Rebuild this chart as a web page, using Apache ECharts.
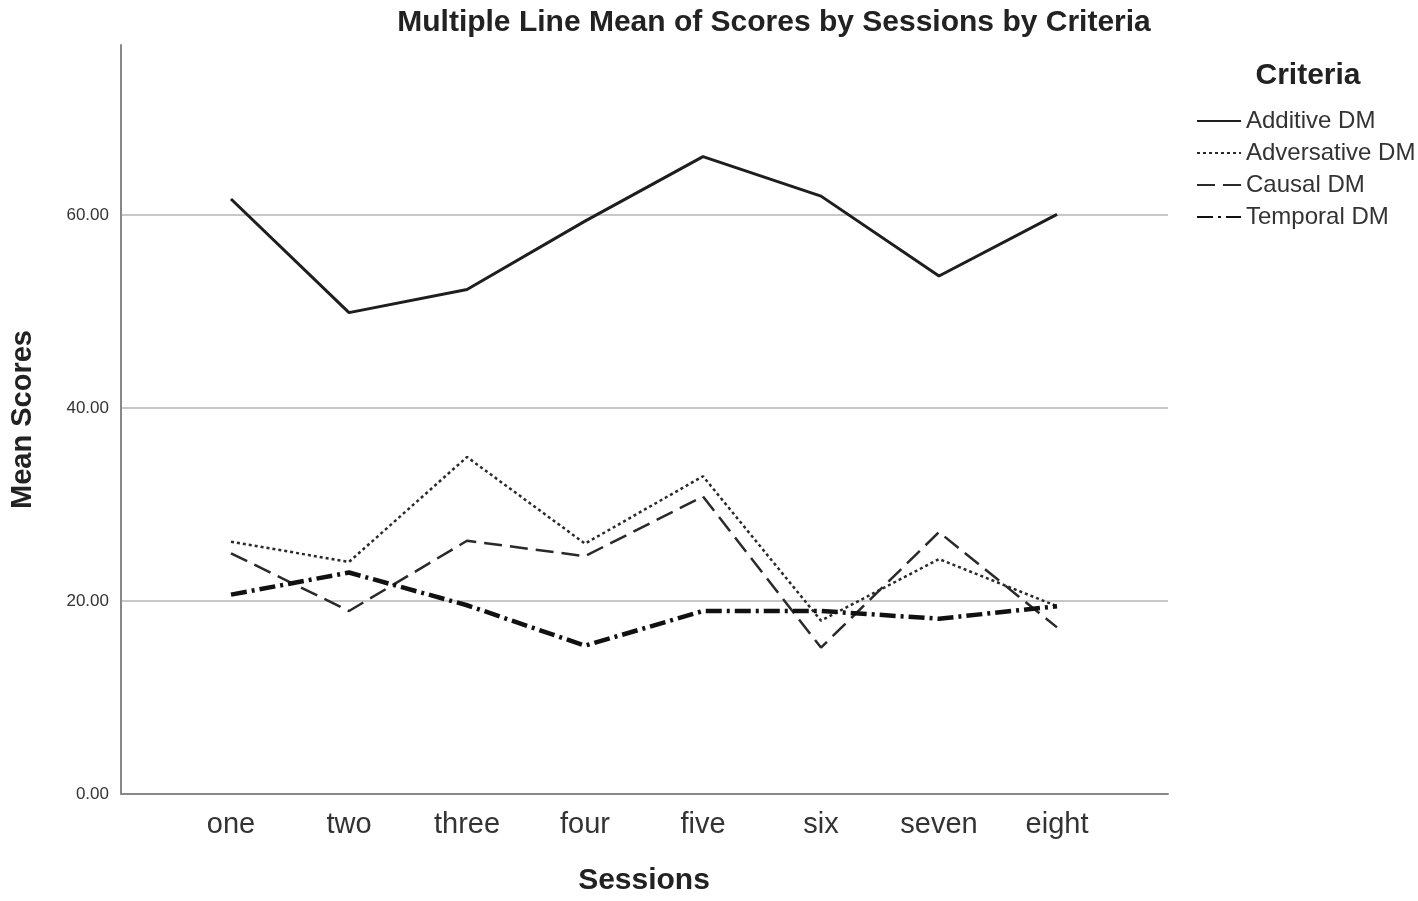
<!DOCTYPE html>
<html lang="en">
<head>
    <meta charset="UTF-8">
    <title>Multiple Line Mean of Scores</title>
    <script src="https://cdn.jsdelivr.net/npm/echarts@6/dist/echarts.min.js"></script>
    <style>
        html, body { margin: 0; padding: 0; background: #fff; }
    </style>
</head>
<body>
<div id="main" style="width: 1418px;height:901px;"></div>
<script>
    // sessions on x axis
    var sessions = ['one', 'two', 'three', 'four', 'five', 'six', 'seven', 'eight'];
    var criteria = ['Additive DM', 'Adversative DM', 'Causal DM', 'Temporal DM'];
    // mean scores
    var additive = [61.6, 49.8, 52.2, 59.3, 66.0, 61.9, 53.6, 60.0];
    var adversative = [26.0, 23.9, 34.8, 25.8, 32.8, 17.8, 24.2, 19.3];
    var causal = [24.8, 18.8, 26.1, 24.5, 30.7, 15.0, 27.0, 17.1];
    var temporal = [20.5, 22.8, 19.4, 15.2, 18.8, 18.8, 18.0, 19.3];
    var yTicks = [0, 20, 40, 60];

    var font = 'Liberation Sans, Arial, sans-serif';
    var yMax = 77.6;
    var grid = '#c8c8c8';

    var myChart = echarts.init(document.getElementById('main'));

    var option = {
        backgroundColor: '#fff',
        animation: false,
        textStyle: {fontFamily: font},
        title: [{
            text: 'Multiple Line Mean of Scores by Sessions by Criteria',
            left: 769, top: 3, textAlign: 'center',
            textStyle: {fontSize: 30, fontWeight: 'bold', color: '#222', fontFamily: font}
        }, {
            text: 'Criteria',
            left: 1303, top: 56, textAlign: 'center',
            textStyle: {fontSize: 30, fontWeight: 'bold', color: '#222', fontFamily: font}
        }],
        legend: {
            orient: 'vertical',
            left: 1191, top: 104,
            itemWidth: 44, itemHeight: 14, itemGap: 8,
            data: criteria,
            itemStyle: {opacity: 0},
            textStyle: {fontSize: 24, color: '#333', fontFamily: font, padding: [0, 0, 0, 0]}
        },
        grid: [
            {left: 119, right: 250, top: 45, bottom: 107},   // frame
            {left: 172, right: 302, top: 45, bottom: 107}    // data
        ],
        xAxis: [{
            gridIndex: 0, type: 'value', min: 0, max: 1,
            axisLine: {show: true, lineStyle: {color: '#888', width: 2}},
            axisTick: {show: false}, axisLabel: {show: false}, splitLine: {show: false}
        }, {
            gridIndex: 1, type: 'category', data: sessions, boundaryGap: true,
            name: 'Sessions', nameLocation: 'middle', nameGap: 74,
            nameTextStyle: {fontSize: 30, fontWeight: 'bold', color: '#222', fontFamily: font},
            axisLine: {show: false}, axisTick: {show: false},
            axisLabel: {fontSize: 29, color: '#333', margin: 18, fontFamily: font}
        }],
        yAxis: [{
            gridIndex: 0, type: 'value', min: 0, max: yMax, interval: 20,
            name: 'Mean Scores', nameLocation: 'middle', nameGap: 84,
            nameTextStyle: {fontSize: 29, fontWeight: 'bold', color: '#222', fontFamily: font},
            axisLine: {show: true, lineStyle: {color: '#888', width: 2}},
            axisTick: {show: false},
            axisLabel: {
                fontSize: 17, color: '#333', margin: 12, showMaxLabel: false, fontFamily: font,
                formatter: function (v) { return yTicks.indexOf(v) >= 0 ? v.toFixed(2) : ''; }
            },
            splitLine: {show: true, lineStyle: {color: [grid, grid, grid, grid, 'rgba(0,0,0,0)'], width: 2}}
        }, {
            gridIndex: 1, type: 'value', min: 0, max: yMax, show: false
        }],
        series: [{
            name: criteria[0], type: 'line', xAxisIndex: 1, yAxisIndex: 1,
            data: additive, symbol: 'none', color: '#1e1e1e',
            lineStyle: {color: '#1e1e1e', width: 3, type: 'solid'}
        }, {
            name: criteria[1], type: 'line', xAxisIndex: 1, yAxisIndex: 1,
            data: adversative, symbol: 'none', color: '#2a2a2a',
            lineStyle: {color: '#2a2a2a', width: 2.5, type: [3, 3]}
        }, {
            name: criteria[2], type: 'line', xAxisIndex: 1, yAxisIndex: 1,
            data: causal, symbol: 'none', color: '#2a2a2a',
            lineStyle: {color: '#2a2a2a', width: 2.5, type: [18, 8]}
        }, {
            name: criteria[3], type: 'line', xAxisIndex: 1, yAxisIndex: 1,
            data: temporal, symbol: 'none', color: '#111',
            lineStyle: {color: '#111', width: 4.5, type: [16, 5, 3, 5]}
        }]
    };

    myChart.setOption(option);
</script>
</body>
</html>
